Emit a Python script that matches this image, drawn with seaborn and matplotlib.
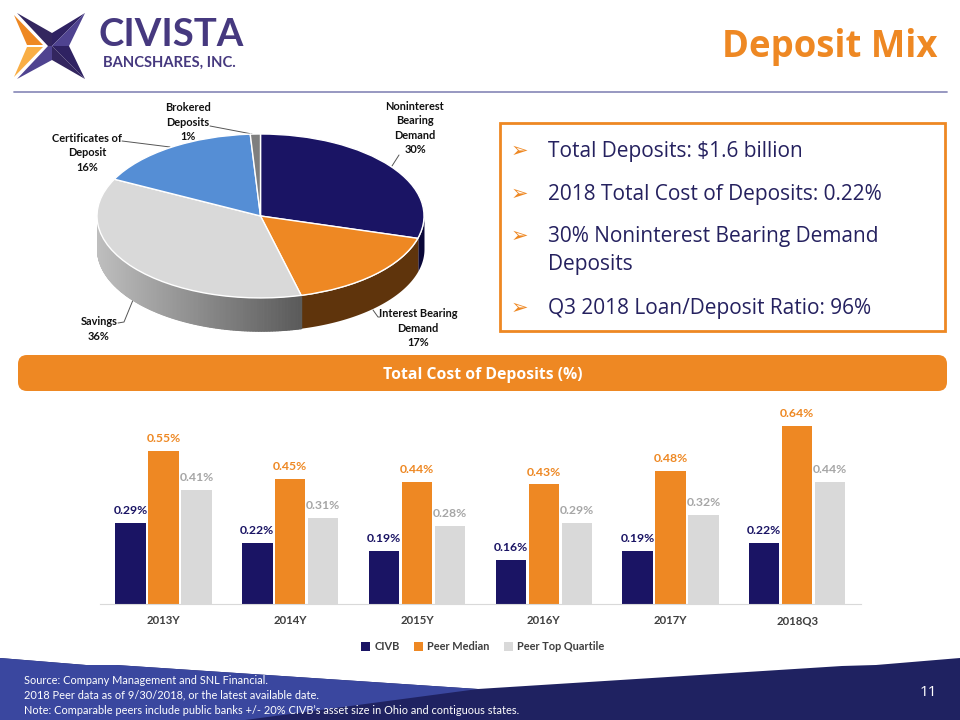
import numpy as np
import pandas as pd
import matplotlib
matplotlib.use('Agg')
import matplotlib.pyplot as plt
from matplotlib.patches import FancyBboxPatch, Polygon, Rectangle
from matplotlib.colors import to_rgb
import seaborn as sns

# pie data, slice sizes
pie_labels = ['Noninterest\nBearing\nDemand\n30%', 'Interest Bearing\nDemand\n17%', 'Savings\n36%',
              'Certificates of\nDeposit\n16%', 'Brokered\nDeposits\n1%']
pie_values = [29.4, 16.6, 36.4, 16.6, 1.0]

# bar data
years = ['2013Y', '2014Y', '2015Y', '2016Y', '2017Y', '2018Q3']
civb = [0.29, 0.22, 0.19, 0.16, 0.19, 0.22]
peer_median = [0.55, 0.45, 0.44, 0.43, 0.48, 0.64]
peer_top = [0.41, 0.31, 0.28, 0.29, 0.32, 0.44]

bullets = ['Total Deposits: $1.6 billion', '2018 Total Cost of Deposits: 0.22%',
           '30% Noninterest Bearing Demand\nDeposits', 'Q3 2018 Loan/Deposit Ratio: 96%']
footnotes = ['Source: Company Management and SNL Financial.',
             '2018 Peer data as of 9/30/2018, or the latest available date.',
             "Note: Comparable peers include public banks +/- 20% CIVB\u2019s asset size in Ohio and contiguous states."]

NAVY = '#1A1464'
ORANGE = '#EE8823'
LGRAY = '#D9D9D9'
BLUE = '#558ED5'
DGRAY = '#7F7F7F'

sns.set_theme(style='white')
plt.rcParams['font.family'] = ['Open Sans', 'DejaVu Sans']

fig = plt.figure(figsize=(9.6, 7.2), dpi=100)


def px_axes(left, top, right, bottom, **kw):
    return fig.add_axes([left / 960, 1 - bottom / 720, (right - left) / 960, (bottom - top) / 720], **kw)


# background layer in pixel coordinates
bg = fig.add_axes([0, 0, 1, 1])
bg.set_xlim(0, 960)
bg.set_ylim(720, 0)
bg.axis('off')

# logo
c = (52, 46)
bg.add_patch(Polygon([(17, 13), (52, 33), c, (48, 46)], color='#33265F', lw=0))
bg.add_patch(Polygon([(85, 13), (52, 33), c], color='#2F2262', lw=0))
bg.add_patch(Polygon([(85, 13), (69, 46), c], color='#4F4390', lw=0))
bg.add_patch(Polygon([(85, 79), (69, 46), c], color='#2F2262', lw=0))
bg.add_patch(Polygon([(85, 79), (52, 60), c], color='#33265F', lw=0))
bg.add_patch(Polygon([(17, 79), (52, 60), c, (48, 46)], color='#4F4390', lw=0))
bg.add_patch(Polygon([(14, 15), (43, 45), (27, 45)], color='#EE8823', lw=0))
bg.add_patch(Polygon([(14, 77), (43, 47), (27, 47)], color='#F9AE45', lw=0))
bg.text(98, 35, 'CIVISTA', fontsize=27.5, fontweight='bold', color='#46397F', va='center', ha='left',
        family='Lato')
bg.text(103, 63, 'BANCSHARES, INC.', fontsize=10.6, fontweight='bold', color='#46397F', va='center', ha='left',
        family='Lato')

bg.text(937, 47, 'Deposit Mix', fontsize=26.3, fontweight='bold', color=ORANGE, ha='right', va='center')
bg.plot([14, 947], [92, 92], color='#8F90BC', lw=1.3)

# text box
bg.add_patch(Rectangle((499.5, 122.5), 445, 208, fill=False, ec=ORANGE, lw=2))
baselines = [157, 200, 270, 314]
first_lines = [157, 200, 242, 314]
for txt, y, y0 in zip(bullets, baselines, first_lines):
    bg.text(511, y0, '\u27a2', fontsize=15, color=ORANGE, ha='left', va='baseline',
            family='DejaVu Sans', fontweight='bold')
    bg.text(548, y, txt, fontsize=15, color='#25215F', ha='left', va='baseline', linespacing=1.42)

# band
bg.add_patch(FancyBboxPatch((18, 355), 929, 36, boxstyle='round,pad=0,rounding_size=9', fc=ORANGE, ec='none'))
bg.text(483, 375, 'Total Cost of Deposits (%)', fontsize=11.3, fontweight='bold', color='white',
        ha='center', va='center')

# footer
bg.add_patch(Polygon([(0, 658), (86, 665), (116, 665), (478, 689), (842, 666), (876, 665), (960, 658),
                      (960, 720), (0, 720)], color='#1F2261', lw=0))
bg.add_patch(Polygon([(0, 658), (86, 665), (116, 665), (478, 689), (245, 720), (0, 720)], color='#3A479F', lw=0))
for txt, y in zip(footnotes, [681, 695, 710]):
    bg.text(24, y, txt, fontsize=7.95, color='white', ha='left', va='center', family='Lato')
bg.text(937, 693, '11', fontsize=11, color='white', ha='right', va='center')

# pie with a drawn side wall
pie_colors = [NAVY, ORANGE, LGRAY, BLUE, DGRAY]
ax_pie = px_axes(97, 134, 424, 334)
depth = 0.40
edges = 90 - np.cumsum([0] + pie_values) * 3.6
for i, col in enumerate(pie_colors):
    a0, a1 = edges[i], edges[i + 1]
    angles = np.linspace(a0, a1, 241)
    angles = angles[np.sin(np.radians(angles)) <= 0]
    if len(angles) < 2:
        continue
    xs = np.cos(np.radians(angles))
    ys = np.sin(np.radians(angles))
    if col == LGRAY:
        # the savings wall darkens from left to right
        for j in range(len(angles) - 1):
            t = (xs[j] + 1) / (xs[0] + 1)
            shade = np.array(to_rgb('#BEBEBE')) * (1 - t) + np.array(to_rgb('#5A5A5A')) * t
            ax_pie.fill_between(xs[j:j + 2], ys[j:j + 2], ys[j:j + 2] - depth, color=shade, lw=0.8)
    else:
        shade = '#5F340C' if col == ORANGE else '#0A0738'
        ax_pie.fill_between(xs, ys, ys - depth, color=shade, lw=0)
ax_pie.pie(pie_values, colors=pie_colors, startangle=90, counterclock=False, radius=1.0)
ax_pie.set_aspect('auto')
ax_pie.set_xlim(-1, 1)
ax_pie.set_ylim(-1.44, 1)

pie_text = [(415, 128), (418, 328), (99, 329), (87, 153), (188, 122)]
for lab, (x, y) in zip(pie_labels, pie_text):
    bg.text(x, y, lab, fontsize=7.9, fontweight='bold', color='#111111', ha='center', va='center',
            family='Lato', linespacing=1.38, zorder=5)
leaders = [[(399, 155), (392, 166)], [(373, 310), (378, 317), (380, 317)], [(133, 300), (124, 322), (118, 323)],
           [(122, 141), (170, 147)], [(210, 126), (252, 134)]]
for pts in leaders:
    bg.plot(*zip(*pts), color='#555555', lw=0.7, zorder=5)

# grouped bars
df = pd.DataFrame({'year': years, 'CIVB': civb, 'Peer Median': peer_median, 'Peer Top Quartile': peer_top})
long_df = df.melt(id_vars='year', var_name='series', value_name='cost')

ax = px_axes(100.2, 400, 860.6, 604)
ax.patch.set_alpha(0)
sns.barplot(data=long_df, x='year', y='cost', hue='series', ax=ax, palette=[NAVY, ORANGE, LGRAY],
            width=0.78, gap=0.08, saturation=1, linewidth=0)
ax.set_ylim(0, 204 / 278)
ax.set_xlim(-0.5, 5.5)
ax.set_xlabel('')
ax.set_ylabel('')
ax.set_yticks([])
sns.despine(ax=ax, left=True)
ax.spines['bottom'].set_color('#D9D9D9')
ax.spines['bottom'].set_linewidth(0.8)
ax.tick_params(axis='x', length=0, pad=8)
for t in ax.get_xticklabels():
    t.set_family('Lato')
    t.set_fontsize(8.2)
    t.set_fontweight('bold')
    t.set_color('#3F3F3F')

label_colors = [NAVY, ORANGE, '#A6A6A6']
for cont, col in zip(ax.containers, label_colors):
    ax.bar_label(cont, fmt='%.2f%%', padding=5, fontsize=8.8, fontweight='bold', color=col, family='Lato')

sns.move_legend(ax, 'center', bbox_to_anchor=(483 / 960, 1 - 647 / 720), bbox_transform=fig.transFigure,
                title=None, ncol=3, frameon=False, handlelength=0.8, handleheight=0.8, handletextpad=0.4,
                columnspacing=1.3, prop={'weight': 'bold', 'size': 7.9, 'family': 'Lato'})
for t in ax.get_legend().get_texts():
    t.set_color('#3F3F3F')

fig.savefig('out.png', dpi=100)
